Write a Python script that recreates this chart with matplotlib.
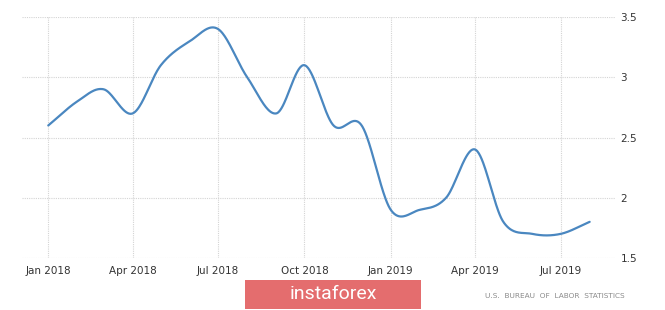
import numpy as np
import pandas as pd
import matplotlib
matplotlib.use('Agg')
import matplotlib.pyplot as plt
import matplotlib.dates as mdates
from matplotlib.patches import Rectangle

# monthly values
months = pd.date_range('2018-01-01', '2019-08-01', freq='MS')
values = [2.6, 2.8, 2.9, 2.7, 3.1, 3.3, 3.4, 3.0, 2.7, 3.1, 2.6, 2.6,
          1.9, 1.9, 2.0, 2.4, 1.8, 1.7, 1.7, 1.8]
tick_dates = ['2018-01-01', '2018-04-01', '2018-07-01', '2018-10-01',
              '2019-01-01', '2019-04-01', '2019-07-01']
tick_labels = ['Jan 2018', 'Apr 2018', 'Jul 2018', 'Oct 2018',
               'Jan 2019', 'Apr 2019', 'Jul 2019']
y_ticks = [1.5, 2, 2.5, 3, 3.5]
y_labels = ['1.5', '2', '2.5', '3', '3.5']


def catmull_rom(x, y, n=40):
    """smooth line through the points (only for drawing)"""
    x = np.asarray(x, float)
    y = np.asarray(y, float)
    mx = np.gradient(x)
    my = np.gradient(y)
    xs, ys = [], []
    t = np.linspace(0, 1, n)
    h00 = 2*t**3 - 3*t**2 + 1
    h10 = t**3 - 2*t**2 + t
    h01 = -2*t**3 + 3*t**2
    h11 = t**3 - t**2
    for i in range(len(x) - 1):
        xs.append(h00*x[i] + h10*mx[i] + h01*x[i+1] + h11*mx[i+1])
        ys.append(h00*y[i] + h10*my[i] + h01*y[i+1] + h11*my[i+1])
    return np.concatenate(xs), np.concatenate(ys)


fig = plt.figure(figsize=(6.65, 3.1), dpi=100)
ax = fig.add_axes([22/665, 52/310, 593/665, 241/310])

xnum = mdates.date2num(months)
sx, sy = catmull_rom(xnum, values)
ax.plot(sx, sy, color='#4a87c0', lw=1.6, solid_capstyle='round', zorder=3)

# axes limits and ticks
x0 = mdates.date2num(pd.Timestamp('2018-01-01')) - 28
x1 = mdates.date2num(pd.Timestamp('2019-08-01')) + 27
ax.set_xlim(x0, x1)
ax.set_ylim(1.5, 3.5)
ax.set_xticks(mdates.date2num(pd.to_datetime(tick_dates)))
ax.set_xticklabels(tick_labels)
ax.set_yticks(y_ticks)
ax.set_yticklabels(y_labels)
ax.yaxis.tick_right()
ax.tick_params(axis='both', length=0, labelsize=7.5, labelcolor='#333333')
ax.tick_params(axis='x', pad=6)
ax.tick_params(axis='y', pad=4)
for s in ax.spines.values():
    s.set_visible(False)
ax.grid(True, color='#d4d4d4', ls=(0, (1, 1)), lw=0.8, zorder=0)
ax.set_facecolor('white')

# source + banner
fig.text(625/665, 1 - 296/310, 'U.S.  BUREAU  OF  LABOR  STATISTICS', ha='right', va='center',
         fontsize=5.3, color='#8a8a8a')
fig.patches.append(Rectangle((245/665, 1 - 309/310), 176/665, 29/310, transform=fig.transFigure,
                             facecolor='#e46d6e', edgecolor='none'))
fig.text(333/665, 1 - 294/310, 'instaforex', ha='center', va='center', fontsize=14,
         color='white', family='Roboto', fontstretch='condensed')

fig.savefig('out.png', dpi=100)
